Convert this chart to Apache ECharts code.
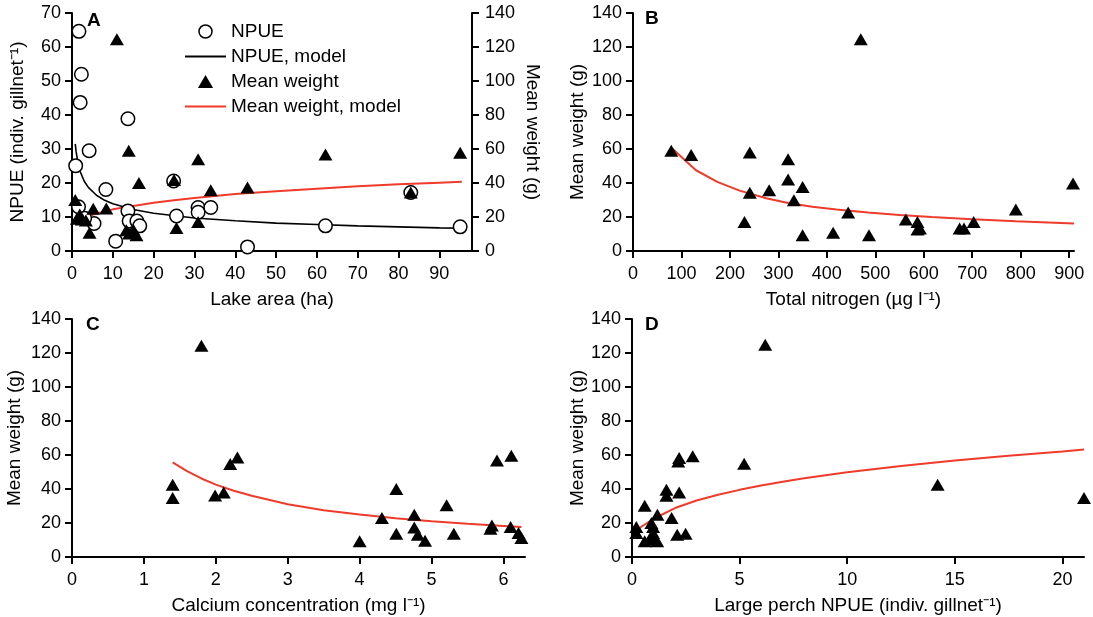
<!DOCTYPE html>
<html>
<head>
<meta charset="utf-8">
<script src="https://cdn.jsdelivr.net/npm/echarts@6/dist/echarts.min.js"></script>
<style>
html,body{margin:0;padding:0;background:#fff;}
#c{width:1093px;height:617px;}
</style>
</head>
<body>
<div id="c"></div>
<script>
// ---------- Panel A : lake area ----------
const aNpueArea = [1.7, 2.3, 2.0, 13.7, 4.2, 0.9, 8.3, 24.9, 1.6, 13.7, 14.0, 15.9, 16.6, 5.4, 3.1, 10.7, 25.6, 30.9, 30.9, 34.0, 43.0, 62.1, 83.0, 95.1];
const aNpue     = [64.6, 52.0, 43.7, 38.9, 29.5, 25.1, 18.1, 20.6, 13.0, 11.8, 8.8, 8.8, 7.4, 8.1, 9.6, 2.9, 10.3, 12.8, 11.4, 12.8, 1.2, 7.4, 17.2, 7.1];
const aWtArea   = [11.0, 13.9, 16.4, 25.0, 30.9, 34.0, 43.0, 0.8, 5.2, 8.4, 1.9, 2.4, 1.2, 3.4, 4.3, 14.0, 15.0, 15.8, 13.3, 25.6, 30.9, 62.1, 83.0, 95.1];
const aWt       = [124.6, 59.0, 40.0, 41.7, 54.0, 35.8, 37.4, 30.0, 24.8, 25.0, 21.5, 18.5, 19.0, 18.0, 10.8, 10.3, 12.6, 9.3, 12.2, 13.6, 17.1, 56.8, 34.4, 57.8];
const aNpueModelX = [0.8, 1, 1.5, 2, 3, 4, 6, 8, 10, 15, 20, 30, 40, 50, 60, 70, 80, 90, 95.5];
const aNpueModelY = [31.5, 29.3, 25.7, 23.4, 20.5, 18.7, 16.4, 14.9, 13.9, 12.2, 11.1, 9.7, 8.9, 8.2, 7.8, 7.4, 7.1, 6.8, 6.7];
const aWtModelX = [3.7, 5, 10, 15, 20, 25, 30, 40, 50, 60, 70, 80, 90, 95.5];
const aWtModelY = [20.0, 21.3, 24.5, 26.5, 28.4, 29.9, 31.2, 33.5, 35.1, 36.6, 38.1, 39.2, 40.2, 40.7];
const aXTicks = [0, 10, 20, 30, 40, 50, 60, 70, 80, 90];

// ---------- Panel B : total nitrogen ----------
const bTN = [79, 120, 241, 320, 320, 350, 281, 241, 332, 230, 350, 413, 444, 470, 487, 563, 587, 587, 592, 674, 683, 703, 790, 908];
const bWt = [59.0, 56.4, 58.0, 54.0, 42.0, 37.7, 35.8, 34.2, 29.9, 17.1, 9.3, 10.8, 22.6, 124.6, 9.3, 18.5, 17.1, 12.6, 13.2, 13.2, 13.2, 17.1, 24.4, 39.7];
const bModelX = [82, 130, 175, 220, 275, 320, 370, 420, 485, 550, 616, 700, 790, 910];
const bModelY = [60.0, 47.5, 40.5, 35.5, 31.0, 28.2, 26.0, 24.4, 22.6, 21.2, 20.0, 18.7, 17.5, 16.2];
const bXTicks = [0, 100, 200, 300, 400, 500, 600, 700, 800, 900];

// ---------- Panel C : calcium ----------
const cCa = [1.80, 1.40, 1.40, 1.99, 2.11, 2.20, 2.30, 4.00, 4.31, 4.51, 4.51, 4.76, 4.76, 4.81, 4.91, 5.21, 5.31, 5.84, 5.82, 5.91, 6.11, 6.10, 6.21, 6.25];
const cWt = [124.3, 42.5, 34.7, 36.2, 38.0, 54.7, 58.6, 9.2, 22.9, 40.0, 13.7, 24.9, 17.4, 13.1, 9.6, 30.4, 13.7, 18.6, 16.6, 56.8, 59.6, 17.6, 14.1, 11.2];
const cModelX = [1.4, 1.6, 1.8, 2.0, 2.25, 2.5, 3.0, 3.5, 4.0, 4.5, 5.0, 5.5, 6.0, 6.25];
const cModelY = [55.6, 50.5, 46.2, 42.6, 39.0, 36.0, 31.0, 27.5, 25.0, 22.8, 21.0, 19.5, 18.3, 17.6];
const cXTicks = [0, 1, 2, 3, 4, 5, 6];

// ---------- Panel D : large perch NPUE ----------
const dN  = [6.19, 5.21, 2.82, 2.19, 2.15, 1.60, 1.60, 2.19, 0.59, 1.18, 1.84, 0.20, 0.20, 0.98, 0.98, 2.10, 2.49, 0.59, 0.83, 1.17, 0.98, 0.90, 14.2, 21.0];
const dWt = [124.9, 54.9, 59.2, 58.2, 56.2, 39.6, 36.1, 38.0, 30.2, 24.9, 22.9, 17.6, 14.1, 17.6, 14.1, 13.1, 13.7, 9.2, 10.2, 9.2, 11.0, 20.0, 42.5, 34.7];
const dModelX = [0.13, 0.4, 1, 2, 3, 4, 5, 6, 7, 8, 10, 12.5, 15, 17.5, 20, 21];
const dModelY = [15.0, 17.5, 22.5, 28.8, 33.2, 36.6, 39.5, 42.1, 44.3, 46.3, 49.9, 53.5, 56.8, 59.6, 62.1, 63.3];
const dXTicks = [0, 5, 10, 15, 20];

// ---------- build ----------
const zip = (xs, ys) => xs.map((x, i) => [x, ys[i]]);
const FONT = '"Liberation Sans", Arial, Helvetica, sans-serif';
const INK = '#000';
const RED = '#ee3b2b';
const LINE_ICON = 'path://M0,0 L40,0 L40,2 L0,2 Z';
const TRI_ICON = 'path://M7,0 L14,12 L0,12 Z';

function xAx(grid, max, ticks, name) {
  return {
    type: 'value', gridIndex: grid, min: 0, max: max,
    name: name, nameLocation: 'middle', nameGap: 39,
    nameTextStyle: { fontSize: 19, color: INK, fontFamily: FONT },
    axisLine: { show: true, onZero: false, lineStyle: { color: INK, width: 2 } },
    axisTick: { show: true, length: 7, lineStyle: { color: INK, width: 2 }, customValues: ticks },
    axisLabel: { fontSize: 18, color: INK, margin: 14, fontFamily: FONT, customValues: ticks },
    splitLine: { show: false }
  };
}
function yAx(grid, max, interval, name, opts) {
  return Object.assign({
    type: 'value', gridIndex: grid, min: 0, max: max, interval: interval,
    name: name, nameLocation: 'middle', nameGap: 46,
    nameTextStyle: { fontSize: 19, color: INK, fontFamily: FONT },
    axisLine: { show: true, onZero: false, lineStyle: { color: INK, width: 2 } },
    axisTick: { show: true, length: 7, lineStyle: { color: INK, width: 2 } },
    axisLabel: { fontSize: 18, color: INK, margin: 11, fontFamily: FONT },
    splitLine: { show: false }
  }, opts || {});
}
function tri(name, xi, yi, data) {
  return { type: 'scatter', name: name, xAxisIndex: xi, yAxisIndex: yi, data: data,
    symbol: 'triangle', symbolSize: [14, 12], itemStyle: { color: '#000', opacity: 1 }, z: 4, clip: false,
    emphasis: { disabled: true } };
}
function model(name, xi, yi, data, color, width) {
  return { type: 'line', name: name, xAxisIndex: xi, yAxisIndex: yi, data: data,
    symbol: 'none', smooth: false, lineStyle: { color: color, width: width }, itemStyle: { color: color },
    z: 2, emphasis: { disabled: true } };
}

const option = {
  animation: false,
  backgroundColor: '#fff',
  textStyle: { fontFamily: FONT, color: INK },
  grid: [
    { left: 72, top: 13, width: 400, height: 238 },
    { left: 633, top: 13, width: 441, height: 238 },
    { left: 72, top: 319, width: 453, height: 238 },
    { left: 632, top: 319, width: 452, height: 238 }
  ],
  xAxis: [
    xAx(0, 98, aXTicks, 'Lake area (ha)'),
    xAx(1, 910, bXTicks, 'Total nitrogen (µg l⁻¹)'),
    xAx(2, 6.3, cXTicks, 'Calcium concentration (mg l⁻¹)'),
    xAx(3, 21, dXTicks, 'Large perch NPUE (indiv. gillnet⁻¹)')
  ],
  yAxis: [
    yAx(0, 70, 10, 'NPUE (indiv. gillnet⁻¹)', { nameGap: 45 }),
    yAx(0, 140, 20, 'Mean weight (g)', { position: 'right', nameRotate: -90, nameGap: 51,
      axisLabel: { fontSize: 18, color: INK, margin: 13, fontFamily: FONT } }),
    yAx(1, 140, 20, 'Mean weight (g)'),
    yAx(2, 140, 20, 'Mean weight (g)', { nameGap: 48 }),
    yAx(3, 140, 20, 'Mean weight (g)', { nameGap: 45 })
  ],
  legend: {
    orient: 'vertical', left: 180, top: 17, itemWidth: 41, itemHeight: 13, itemGap: 6,
    textStyle: { fontSize: 19, color: INK, fontFamily: FONT },
    selectedMode: false,
    data: [
      { name: 'NPUE', icon: 'circle', itemStyle: { color: '#fff', borderColor: '#000', borderWidth: 1.5, opacity: 1 } },
      { name: 'NPUE, model', icon: LINE_ICON, itemStyle: { color: '#000' } },
      { name: 'Mean weight', icon: TRI_ICON, itemStyle: { color: '#000', opacity: 1 } },
      { name: 'Mean weight, model', icon: LINE_ICON, itemStyle: { color: RED } }
    ]
  },
  graphic: [
    { type: 'text', left: 87, top: 11, style: { text: 'A', font: 'bold 19px ' + FONT, fill: INK } },
    { type: 'text', left: 645, top: 9, style: { text: 'B', font: 'bold 19px ' + FONT, fill: INK } },
    { type: 'text', left: 86, top: 315, style: { text: 'C', font: 'bold 19px ' + FONT, fill: INK } },
    { type: 'text', left: 645, top: 315, style: { text: 'D', font: 'bold 19px ' + FONT, fill: INK } }
  ],
  series: [
    model('NPUE, model', 0, 0, zip(aNpueModelX, aNpueModelY), '#000', 1.6),
    model('Mean weight, model', 0, 1, zip(aWtModelX, aWtModelY), RED, 2),
    { type: 'scatter', name: 'NPUE', xAxisIndex: 0, yAxisIndex: 0, data: zip(aNpueArea, aNpue),
      symbol: 'circle', symbolSize: 13.5, clip: false,
      itemStyle: { color: '#fff', borderColor: '#000', borderWidth: 1.5, opacity: 1 }, z: 3, emphasis: { disabled: true } },
    tri('Mean weight', 0, 1, zip(aWtArea, aWt)),
    model('B model', 1, 2, zip(bModelX, bModelY), RED, 2),
    tri('B weight', 1, 2, zip(bTN, bWt)),
    model('C model', 2, 3, zip(cModelX, cModelY), RED, 2),
    tri('C weight', 2, 3, zip(cCa, cWt)),
    model('D model', 3, 4, zip(dModelX, dModelY), RED, 2),
    tri('D weight', 3, 4, zip(dN, dWt))
  ]
};

const chart = echarts.init(document.getElementById('c'), null, { renderer: 'canvas' });
chart.setOption(option);
</script>
</body>
</html>
